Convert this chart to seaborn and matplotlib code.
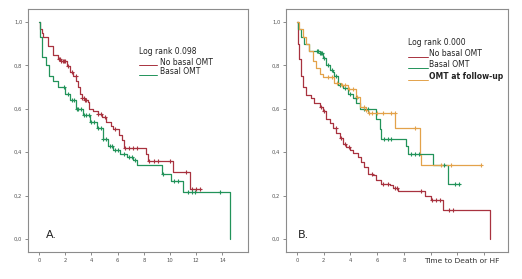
import numpy as np
import pandas as pd
import matplotlib
matplotlib.use("Agg")
import matplotlib.pyplot as plt
import seaborn as sns

# ---------------- data ----------------
# Panel A
tA_red = [0, 0.1, 0.2, 0.3, 0.7, 1.07, 1.45, 1.7, 2.1, 2.35, 2.6, 2.85, 3.0, 3.1, 3.25, 3.5, 3.75, 3.8,
          4.1, 4.5, 4.8, 5.15, 5.5, 5.65, 6.1, 6.3, 6.45, 8.2, 8.35, 10.25, 11.5, 12.4]
sA_red = [1.0, 0.97, 0.95, 0.93, 0.89, 0.85, 0.83, 0.82, 0.795, 0.77, 0.75, 0.73, 0.70, 0.67, 0.65, 0.64, 0.63, 0.60,
          0.59, 0.575, 0.56, 0.54, 0.52, 0.505, 0.48, 0.455, 0.42, 0.39, 0.36, 0.31, 0.23, 0.23]
cA_red = [1.5, 1.6, 1.7, 1.8, 1.9, 2.0, 2.2, 2.5, 2.8, 3.3, 3.4, 3.5, 3.6, 4.5, 4.7, 5.0, 5.8, 6.6,
          6.9, 7.2, 7.5, 8.4, 8.8, 9.1, 10.0, 11.2, 11.7, 12.0, 12.3]

tA_grn = [0, 0.1, 0.25, 0.55, 0.8, 1.07, 1.45, 1.96, 2.35, 2.85, 3.37, 3.9, 4.4, 4.9, 5.3, 5.65, 6.2,
          6.7, 7.2, 7.45, 9.35, 10.1, 11.0, 14.58, 14.58]
sA_grn = [1.0, 0.93, 0.84, 0.80, 0.75, 0.73, 0.70, 0.67, 0.64, 0.60, 0.57, 0.54, 0.51, 0.46, 0.43, 0.41, 0.39,
          0.38, 0.365, 0.34, 0.30, 0.265, 0.215, 0.215, 0.0]
cA_grn = [1.9, 2.2, 2.5, 2.7, 2.9, 3.0, 3.2, 3.4, 3.6, 3.8, 4.0, 4.2, 4.5, 4.7, 4.9, 5.1, 5.4, 5.6, 5.8,
          6.0, 6.5, 6.9, 7.1, 7.3, 9.5, 10.3, 10.6, 11.4, 11.7, 11.9, 13.8]

# Panel B
tB_red = [0, 0.05, 0.17, 0.3, 0.43, 0.68, 1.05, 1.3, 1.68, 1.93, 2.18, 2.43, 2.68, 2.93, 3.18, 3.43, 3.68,
          3.93, 4.18, 4.55, 4.8, 5.05, 5.3, 5.68, 5.93, 6.3, 6.93, 7.18, 7.55, 9.55, 10.05, 10.93, 14.43, 14.43]
sB_red = [1.0, 0.90, 0.83, 0.75, 0.70, 0.665, 0.65, 0.625, 0.61, 0.59, 0.555, 0.535, 0.51, 0.49, 0.465, 0.44, 0.425,
          0.41, 0.395, 0.38, 0.355, 0.33, 0.30, 0.295, 0.27, 0.255, 0.25, 0.235, 0.22, 0.20, 0.18, 0.135, 0.135, 0.0]
cB_red = [1.8, 2.0, 2.9, 3.3, 3.6, 3.9, 5.6, 6.4, 6.8, 7.3, 7.5, 9.3, 10.1, 10.4, 10.7, 11.4, 11.7]

tB_grn = [0, 0.1, 0.3, 0.55, 0.93, 1.68, 1.93, 2.18, 2.43, 2.68, 2.8, 3.05, 3.43, 3.8, 4.18, 4.43, 4.68,
          5.93, 6.18, 6.3, 8.18, 8.3, 10.18, 11.3, 12.2]
sB_grn = [1.0, 0.97, 0.93, 0.90, 0.865, 0.857, 0.835, 0.80, 0.78, 0.77, 0.75, 0.71, 0.695, 0.67, 0.65, 0.625, 0.60,
          0.555, 0.505, 0.46, 0.43, 0.39, 0.34, 0.255, 0.255]
cB_grn = [1.5, 1.6, 1.7, 1.8, 1.9, 2.0, 2.3, 2.6, 2.9, 3.2, 3.6, 4.0, 4.4, 5.0, 5.3, 6.5, 6.8, 7.0,
          8.5, 8.8, 9.1, 11.0, 11.8, 12.1]

tB_org = [0, 0.17, 0.43, 0.68, 0.93, 1.18, 1.43, 1.68, 1.93, 2.8, 3.3, 3.8, 4.43, 4.68, 5.18, 5.3,
          7.35, 9.18, 9.25, 13.8]
sB_org = [1.0, 0.97, 0.93, 0.90, 0.865, 0.82, 0.79, 0.76, 0.745, 0.72, 0.71, 0.69, 0.655, 0.61, 0.595, 0.58,
          0.51, 0.385, 0.34, 0.34]
cB_org = [2.3, 2.6, 3.0, 3.4, 3.6, 3.9, 4.2, 4.5, 5.0, 5.2, 5.4, 5.6, 6.0, 6.4, 7.0, 7.3, 8.8, 10.8, 11.5, 13.8]

x_ticks_A = [0, 2, 4, 6, 8, 10, 12, 14]
x_ticks_B = [0, 2, 4, 6, 8, 10, 12, 14]
x_labels_B = ["0", "2", "4", "6", "8", "", "", ""]
y_ticks = [0.0, 0.2, 0.4, 0.6, 0.8, 1.0]
y_labels = ["0,0", "0,2", "0,4", "0,6", "0,8", "1,0"]

labels = ["No basal OMT", "Basal OMT", "OMT at follow-up"]
RED = "#a8323f"
GRN = "#22935a"
ORG = "#e3a24a"

sns.set_style("white")
plt.rcParams["font.family"] = ["DejaVu Sans"]

fig = plt.figure(figsize=(5.22, 2.79), dpi=100)
axA = fig.add_axes([28 / 522, 1 - 252 / 279, 220 / 522, 243 / 279])
axB = fig.add_axes([286 / 522, 1 - 252 / 279, 222 / 522, 243 / 279])


def km(ax, t, s, c, color):
    t = np.asarray(t, float)
    s = np.asarray(s, float)
    df = pd.DataFrame({"t": t, "s": s})
    sns.lineplot(data=df, x="t", y="s", ax=ax, color=color, lw=0.9,
                 drawstyle="steps-post", estimator=None, sort=False)
    c = np.asarray(c, float)
    idx = np.searchsorted(t, c, side="right") - 1
    cdf = pd.DataFrame({"t": c, "s": s[idx]})
    sns.scatterplot(data=cdf, x="t", y="s", ax=ax, color=color, edgecolor=color,
                    marker="+", s=10, linewidth=0.8, zorder=3)


def style(ax, xlim, xticks, xlabels):
    ax.set_xlim(*xlim)
    ax.set_ylim(-0.06, 1.06)
    ax.set_xticks(xticks)
    ax.set_xticklabels(xlabels)
    ax.set_yticks(y_ticks)
    ax.set_yticklabels(y_labels)
    ax.set_xlabel("")
    ax.set_ylabel("")
    for sp in ax.spines.values():
        sp.set_color("#8c8c8c")
        sp.set_linewidth(0.8)
    ax.tick_params(axis="both", which="both", direction="out", length=2.5, width=0.6,
                   color="#777777", labelsize=3.8, labelcolor="#555555", pad=1.5,
                   left=True, bottom=True)


# Panel A
km(axA, tA_red, sA_red, cA_red, RED)
km(axA, tA_grn, sA_grn, cA_grn, GRN)
style(axA, (-0.84, 15.95), x_ticks_A, [str(v) for v in x_ticks_A])
axA.text(0.5, 0.02, "A.", fontsize=8, color="#222222", va="center")
axA.text(7.6, 0.865, "Log rank 0.098", fontsize=5.5, color="#222222", va="center")
axA.plot([7.6, 9.0], [0.80, 0.80], color=RED, lw=0.7)
axA.text(9.2, 0.815, labels[0], fontsize=5.5, color="#222222", va="center")
axA.plot([7.6, 9.0], [0.755, 0.755], color=GRN, lw=0.7)
axA.text(9.2, 0.77, labels[1], fontsize=5.5, color="#222222", va="center")

# Panel B
km(axB, tB_red, sB_red, cB_red, RED)
km(axB, tB_grn, sB_grn, cB_grn, GRN)
km(axB, tB_org, sB_org, cB_org, ORG)
style(axB, (-0.83, 15.8), x_ticks_B, x_labels_B)
axB.text(0.05, 0.02, "B.", fontsize=8, color="#222222", va="center")
axB.text(8.3, 0.905, "Log rank 0.000", fontsize=5.5, color="#222222", va="center")
axB.plot([8.3, 9.8], [0.84, 0.84], color=RED, lw=0.7)
axB.text(9.9, 0.855, labels[0], fontsize=5.5, color="#222222", va="center")
axB.plot([8.3, 9.8], [0.79, 0.79], color=GRN, lw=0.7)
axB.text(9.9, 0.805, labels[1], fontsize=5.5, color="#222222", va="center")
axB.plot([8.3, 9.8], [0.735, 0.735], color=ORG, lw=0.7)
axB.text(9.9, 0.75, labels[2], fontsize=5.5, color="#222222", va="center", fontweight="bold")
fig.text(424 / 522, 1 - 261 / 279, "Time to Death or HF", fontsize=5.4, color="#333333", va="center")

fig.savefig("out.png", dpi=100)
